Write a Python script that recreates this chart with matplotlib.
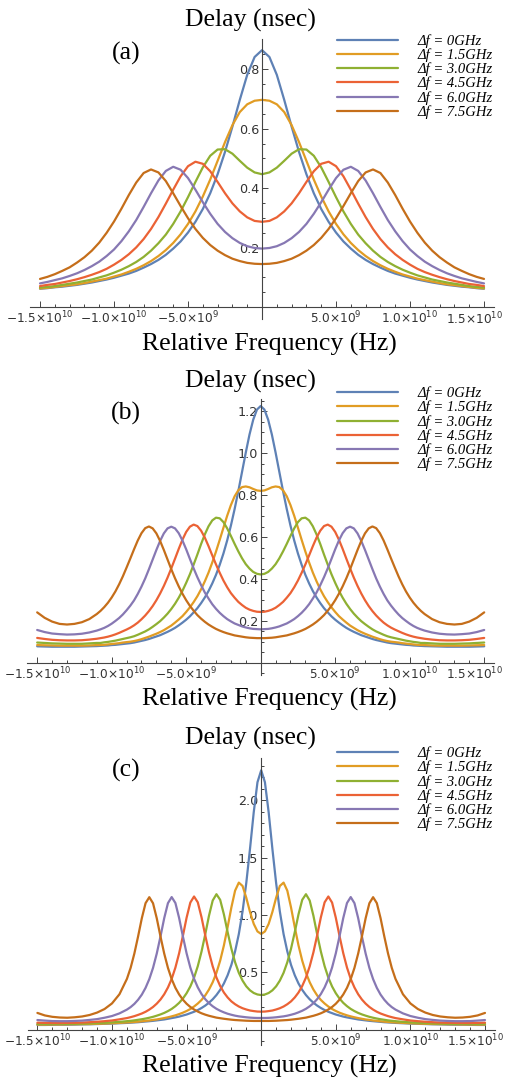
import numpy as np
import matplotlib
matplotlib.use("Agg")
import matplotlib.pyplot as plt
from matplotlib.font_manager import FontProperties

plt.rcParams["font.family"] = "DejaVu Sans"
plt.rcParams["mathtext.fontset"] = "dejavusans"

# legend entries and Mathematica default colours
shift_labels = ["0", "1.5", "3.0", "4.5", "6.0", "7.5"]
colors = ["#5E81B5", "#E19C24", "#8FB032", "#EB6235", "#8778B3", "#C56E1A"]

# curves are symmetric about 0 Hz, so only the right half (GHz >= 0) was read off
# ---- panel (a) ----
freq_a = [0, 0.5, 1, 1.5, 2, 2.5, 3, 3.5, 4, 4.5, 5, 5.5, 6, 6.5, 7, 7.5, 8, 8.5, 9, 9.5,
          10, 10.5, 11, 11.5, 12, 12.5, 13, 13.5, 14, 14.5, 15]
a_df00 = [0.864, 0.841, 0.781, 0.697, 0.607, 0.522, 0.447, 0.383, 0.330, 0.287, 0.251, 0.221,
          0.197, 0.176, 0.159, 0.145, 0.133, 0.122, 0.113, 0.106, 0.099, 0.093, 0.088, 0.083,
          0.079, 0.075, 0.072, 0.069, 0.067, 0.064, 0.062]
a_df15 = [0.697, 0.694, 0.682, 0.656, 0.612, 0.555, 0.492, 0.429, 0.372, 0.322, 0.280, 0.245,
          0.216, 0.192, 0.172, 0.155, 0.141, 0.129, 0.119, 0.110, 0.103, 0.096, 0.091, 0.086,
          0.081, 0.077, 0.074, 0.071, 0.068, 0.065, 0.063]
a_df30 = [0.447, 0.453, 0.469, 0.492, 0.516, 0.531, 0.530, 0.509, 0.470, 0.421, 0.370, 0.322,
          0.280, 0.244, 0.215, 0.190, 0.169, 0.152, 0.138, 0.126, 0.116, 0.107, 0.100, 0.093,
          0.088, 0.083, 0.079, 0.075, 0.071, 0.068, 0.066]
a_df45 = [0.287, 0.290, 0.302, 0.322, 0.349, 0.383, 0.421, 0.457, 0.482, 0.489, 0.474, 0.440,
          0.395, 0.348, 0.303, 0.263, 0.229, 0.201, 0.178, 0.159, 0.143, 0.129, 0.118, 0.109,
          0.101, 0.094, 0.088, 0.083, 0.078, 0.075, 0.071]
a_df60 = [0.197, 0.199, 0.205, 0.216, 0.232, 0.253, 0.280, 0.314, 0.353, 0.395, 0.434, 0.462,
          0.472, 0.458, 0.426, 0.383, 0.337, 0.293, 0.255, 0.222, 0.194, 0.172, 0.153, 0.138,
          0.125, 0.114, 0.105, 0.097, 0.091, 0.085, 0.080]
a_df75 = [0.145, 0.146, 0.149, 0.155, 0.163, 0.175, 0.190, 0.209, 0.233, 0.263, 0.299, 0.340,
          0.383, 0.424, 0.453, 0.463, 0.451, 0.419, 0.377, 0.331, 0.288, 0.250, 0.217, 0.190,
          0.168, 0.150, 0.134, 0.122, 0.111, 0.102, 0.095]

# ---- panel (b) ----
freq_b = [0, 0.25, 0.5, 0.75, 1, 1.25, 1.5, 1.75, 2, 2.25, 2.5, 2.75, 3, 3.25, 3.5, 3.75,
          4, 4.25, 4.5, 4.75, 5, 5.25, 5.5, 5.75, 6, 6.25, 6.5, 6.75, 7, 7.25, 7.5, 7.75,
          8, 8.25, 8.5, 8.75, 9, 9.25, 9.5, 9.75, 10, 10.25, 10.5, 10.75, 11, 11.5, 12, 12.5,
          13, 13.5, 14, 14.5, 15]
b_df00 = [1.226, 1.209, 1.161, 1.090, 1.004, 0.912, 0.820, 0.734, 0.655, 0.584, 0.522, 0.468,
          0.420, 0.379, 0.343, 0.312, 0.285, 0.261, 0.241, 0.222, 0.206, 0.192, 0.179, 0.167,
          0.157, 0.148, 0.140, 0.132, 0.126, 0.120, 0.114, 0.109, 0.105, 0.101, 0.097, 0.094,
          0.092, 0.090, 0.088, 0.086, 0.085, 0.083, 0.082, 0.081, 0.080, 0.079, 0.078, 0.077,
          0.077, 0.077, 0.077, 0.078, 0.079]
b_df15 = [0.821, 0.823, 0.830, 0.838, 0.842, 0.839, 0.824, 0.795, 0.753, 0.702, 0.645, 0.587,
          0.531, 0.479, 0.431, 0.389, 0.351, 0.318, 0.290, 0.265, 0.243, 0.223, 0.207, 0.192,
          0.178, 0.167, 0.156, 0.147, 0.139, 0.132, 0.125, 0.119, 0.113, 0.108, 0.104, 0.101,
          0.099, 0.097, 0.094, 0.092, 0.090, 0.088, 0.086, 0.085, 0.085, 0.083, 0.082, 0.082,
          0.082, 0.082, 0.083, 0.084, 0.085]
b_df30 = [0.422, 0.425, 0.434, 0.450, 0.471, 0.499, 0.532, 0.568, 0.606, 0.642, 0.672, 0.690,
          0.693, 0.680, 0.652, 0.613, 0.567, 0.517, 0.469, 0.423, 0.382, 0.344, 0.311, 0.282,
          0.257, 0.235, 0.216, 0.199, 0.185, 0.172, 0.160, 0.150, 0.142, 0.134, 0.127, 0.122,
          0.118, 0.114, 0.110, 0.106, 0.103, 0.100, 0.098, 0.095, 0.095, 0.093, 0.091, 0.091,
          0.091, 0.092, 0.093, 0.095, 0.097]
b_df45 = [0.243, 0.244, 0.248, 0.254, 0.263, 0.276, 0.291, 0.311, 0.333, 0.361, 0.393, 0.430,
          0.470, 0.513, 0.557, 0.598, 0.631, 0.653, 0.660, 0.650, 0.625, 0.588, 0.544, 0.497,
          0.451, 0.407, 0.367, 0.331, 0.299, 0.271, 0.247, 0.226, 0.208, 0.192, 0.179, 0.168,
          0.159, 0.151, 0.143, 0.136, 0.130, 0.125, 0.121, 0.118, 0.115, 0.111, 0.108, 0.107,
          0.107, 0.108, 0.110, 0.114, 0.119]
b_df60 = [0.160, 0.161, 0.162, 0.165, 0.169, 0.174, 0.181, 0.188, 0.198, 0.209, 0.223, 0.239,
          0.258, 0.280, 0.307, 0.336, 0.371, 0.409, 0.451, 0.496, 0.542, 0.584, 0.619, 0.642,
          0.650, 0.642, 0.618, 0.582, 0.539, 0.493, 0.447, 0.403, 0.364, 0.329, 0.298, 0.273,
          0.251, 0.231, 0.214, 0.200, 0.187, 0.176, 0.167, 0.160, 0.154, 0.145, 0.139, 0.136,
          0.135, 0.137, 0.140, 0.147, 0.157]
b_df75 = [0.118, 0.118, 0.119, 0.120, 0.122, 0.125, 0.128, 0.131, 0.136, 0.141, 0.147, 0.154,
          0.162, 0.172, 0.183, 0.196, 0.211, 0.228, 0.249, 0.272, 0.299, 0.330, 0.365, 0.404,
          0.447, 0.493, 0.539, 0.582, 0.618, 0.642, 0.651, 0.643, 0.619, 0.584, 0.542, 0.498,
          0.455, 0.413, 0.375, 0.341, 0.312, 0.287, 0.266, 0.248, 0.233, 0.209, 0.194, 0.186,
          0.183, 0.186, 0.197, 0.215, 0.241]

# ---- panel (c) ----
freq_c = [0, 0.25, 0.5, 0.75, 1, 1.25, 1.5, 1.75, 2, 2.25, 2.5, 2.75, 3, 3.25, 3.5, 3.75,
          4, 4.25, 4.5, 4.75, 5, 5.25, 5.5, 5.75, 6, 6.25, 6.5, 6.75, 7, 7.25, 7.5, 7.75,
          8, 8.25, 8.5, 8.75, 9, 9.5, 10, 10.5, 11, 11.5, 12, 12.5, 13, 13.5, 14, 14.5, 15]
c_df00 = [2.262, 2.158, 1.896, 1.577, 1.279, 1.030, 0.833, 0.682, 0.564, 0.474, 0.402, 0.346,
          0.301, 0.264, 0.234, 0.209, 0.188, 0.170, 0.155, 0.143, 0.131, 0.122, 0.113, 0.106,
          0.100, 0.094, 0.088, 0.084, 0.080, 0.076, 0.073, 0.070, 0.067, 0.064, 0.062, 0.060,
          0.058, 0.055, 0.052, 0.050, 0.048, 0.046, 0.045, 0.043, 0.042, 0.042, 0.041, 0.040,
          0.040]
c_df15 = [0.834, 0.856, 0.922, 1.026, 1.150, 1.253, 1.282, 1.212, 1.065, 0.894, 0.734, 0.601,
          0.495, 0.413, 0.349, 0.298, 0.258, 0.227, 0.201, 0.179, 0.162, 0.147, 0.135, 0.124,
          0.115, 0.107, 0.100, 0.094, 0.088, 0.084, 0.079, 0.076, 0.072, 0.069, 0.066, 0.064,
          0.062, 0.058, 0.055, 0.052, 0.050, 0.048, 0.047, 0.046, 0.045, 0.044, 0.044, 0.043,
          0.043]
c_df30 = [0.301, 0.306, 0.319, 0.342, 0.377, 0.427, 0.495, 0.587, 0.706, 0.850, 1.005, 1.132,
          1.181, 1.126, 0.993, 0.831, 0.680, 0.553, 0.453, 0.376, 0.317, 0.270, 0.233, 0.204,
          0.180, 0.161, 0.145, 0.132, 0.121, 0.111, 0.103, 0.096, 0.090, 0.085, 0.080, 0.076,
          0.073, 0.067, 0.063, 0.059, 0.056, 0.053, 0.051, 0.050, 0.049, 0.049, 0.048, 0.048,
          0.049]
c_df45 = [0.156, 0.157, 0.161, 0.166, 0.175, 0.186, 0.201, 0.221, 0.246, 0.280, 0.323, 0.380,
          0.454, 0.551, 0.674, 0.822, 0.980, 1.110, 1.161, 1.108, 0.976, 0.816, 0.666, 0.541,
          0.442, 0.367, 0.308, 0.262, 0.226, 0.197, 0.174, 0.155, 0.140, 0.128, 0.117, 0.108,
          0.100, 0.089, 0.079, 0.073, 0.068, 0.064, 0.061, 0.059, 0.058, 0.057, 0.057, 0.058,
          0.060]
c_df60 = [0.101, 0.101, 0.102, 0.104, 0.107, 0.111, 0.115, 0.121, 0.129, 0.138, 0.150, 0.164,
          0.181, 0.203, 0.230, 0.265, 0.310, 0.368, 0.443, 0.541, 0.665, 0.814, 0.973, 1.104,
          1.156, 1.103, 0.972, 0.812, 0.663, 0.538, 0.440, 0.364, 0.305, 0.260, 0.224, 0.196,
          0.174, 0.141, 0.118, 0.103, 0.091, 0.084, 0.078, 0.075, 0.073, 0.073, 0.074, 0.078,
          0.083]
c_df75 = [0.075, 0.075, 0.075, 0.076, 0.077, 0.079, 0.081, 0.083, 0.086, 0.090, 0.094, 0.099,
          0.104, 0.112, 0.120, 0.130, 0.142, 0.157, 0.175, 0.197, 0.225, 0.261, 0.306, 0.364,
          0.440, 0.538, 0.663, 0.812, 0.971, 1.102, 1.155, 1.103, 0.972, 0.813, 0.664, 0.539,
          0.442, 0.308, 0.228, 0.179, 0.148, 0.127, 0.114, 0.107, 0.103, 0.105, 0.111, 0.123,
          0.145]

xtick_pos = [-15e9, -10e9, -5e9, 5e9, 10e9, 15e9]
xtick_lab = [r"$-1.5{\times}10^{10}$", r"$-1.0{\times}10^{10}$", r"$-5.0{\times}10^{9}$",
             r"$5.0{\times}10^{9}$", r"$1.0{\times}10^{10}$", r"$1.5{\times}10^{10}$"]

W, H = 511, 1080
AX_COL = "#444444"
TICK_COL = "#333333"


def mirror(freq_ghz, delay):
    f = np.asarray(freq_ghz, dtype=float) * 1e9
    d = np.asarray(delay, dtype=float)
    return np.concatenate([-f[:0:-1], f]), np.concatenate([d[:0:-1], d])


# rect (fig fraction), ylim, y ticks, and pixel rows for the texts / legend top
panels = [
    dict(letter="(a)", freq=freq_a, curves=[a_df00, a_df15, a_df30, a_df45, a_df60, a_df75],
         rect=[0.0595, 0.70454, 0.9065, 0.25894], ylim=(-0.04, 0.90),
         major=np.arange(0.2, 0.81, 0.2), minor=np.arange(0.05, 0.86, 0.05),
         title_y=20, letter_y=53, xlabel_y=344, leg_top=34),
    dict(letter="(b)", freq=freq_b, curves=[b_df00, b_df15, b_df30, b_df45, b_df60, b_df75],
         rect=[0.0538, 0.37519, 0.9127, 0.25546], ylim=(-0.057, 1.26),
         major=np.arange(0.2, 1.21, 0.2), minor=np.arange(-0.05, 1.251, 0.05),
         title_y=381, letter_y=413, xlabel_y=699, leg_top=386.5),
    dict(letter="(c)", freq=freq_c, curves=[c_df00, c_df15, c_df30, c_df45, c_df60, c_df75],
         rect=[0.0542, 0.0325, 0.9139, 0.26602], ylim=(-0.134, 2.373),
         major=np.arange(0.5, 2.01, 0.5), minor=np.arange(-0.1, 2.31, 0.1),
         title_y=738, letter_y=770, xlabel_y=1066, leg_top=746.5),
]

fig = plt.figure(figsize=(W / 100, H / 100), dpi=100)
serif = "Liberation Serif"
leg_font = FontProperties(family=serif, style="italic", size=10.5)

for p in panels:
    ax = fig.add_axes(p["rect"])
    ax.patch.set_alpha(0)
    lines = []
    for delay, col in zip(p["curves"], colors):
        x, y = mirror(p["freq"], delay)
        ln, = ax.plot(x, y, color=col, lw=1.6, solid_capstyle="round", solid_joinstyle="round")
        lines.append(ln)

    ax.set_xlim(-15.65e9, 15.65e9)
    ax.set_ylim(*p["ylim"])
    for s in ["top", "right"]:
        ax.spines[s].set_visible(False)
    ax.spines["left"].set_position(("data", 0))
    ax.spines["bottom"].set_position(("data", 0))
    for s in ["left", "bottom"]:
        ax.spines[s].set_color(AX_COL)
        ax.spines[s].set_linewidth(0.8)

    # last x label sits a little left of its tick (as in the original), so it is drawn separately
    ax.set_xticks(xtick_pos)
    ax.set_xticklabels(xtick_lab[:-1] + [""])
    ax.annotate(xtick_lab[-1], xy=(15e9, 0), xycoords="data", xytext=(-6.8, -2.2),
                textcoords="offset points", ha="center", va="top", fontsize=8.7,
                color=TICK_COL, annotation_clip=False)
    ax.set_xticks([k * 1e9 for k in range(-15, 16) if k % 5 != 0], minor=True)

    maj = [round(v, 2) for v in p["major"]]
    ax.set_yticks(maj)
    ax.set_yticklabels(["%.1f" % v for v in maj])
    mn = [round(v, 2) for v in p["minor"] if all(abs(v - m) > 1e-6 for m in maj) and abs(v) > 1e-6]
    ax.set_yticks(mn, minor=True)

    ax.tick_params(which="both", direction="in", color=AX_COL, width=0.7,
                   labelcolor=TICK_COL, pad=2)
    ax.tick_params(axis="x", labelsize=8.7)
    ax.tick_params(axis="y", labelsize=9.2)
    ax.tick_params(which="major", length=4.5)
    ax.tick_params(which="minor", length=2.5)

    fig.text(250 / W, 1 - p["title_y"] / H, "Delay (nsec)", family=serif, size=18.5,
             ha="center", va="center")
    fig.text(126 / W, 1 - p["letter_y"] / H, p["letter"], family=serif, size=18.5,
             ha="center", va="center")
    fig.text(269.5 / W, 1 - p["xlabel_y"] / H, "Relative Frequency (Hz)", family=serif,
             size=18.5, ha="center", va="center")

    labels = ["\u0394f = %sGHz" % s for s in shift_labels]
    ax.legend(lines, labels, loc="upper left", bbox_to_anchor=(337 / W, 1 - p["leg_top"] / H),
              bbox_transform=fig.transFigure, frameon=False, prop=leg_font,
              handlelength=4.2, handletextpad=1.3, labelspacing=0.03,
              borderpad=0, borderaxespad=0)

fig.savefig("out.png", dpi=100)
